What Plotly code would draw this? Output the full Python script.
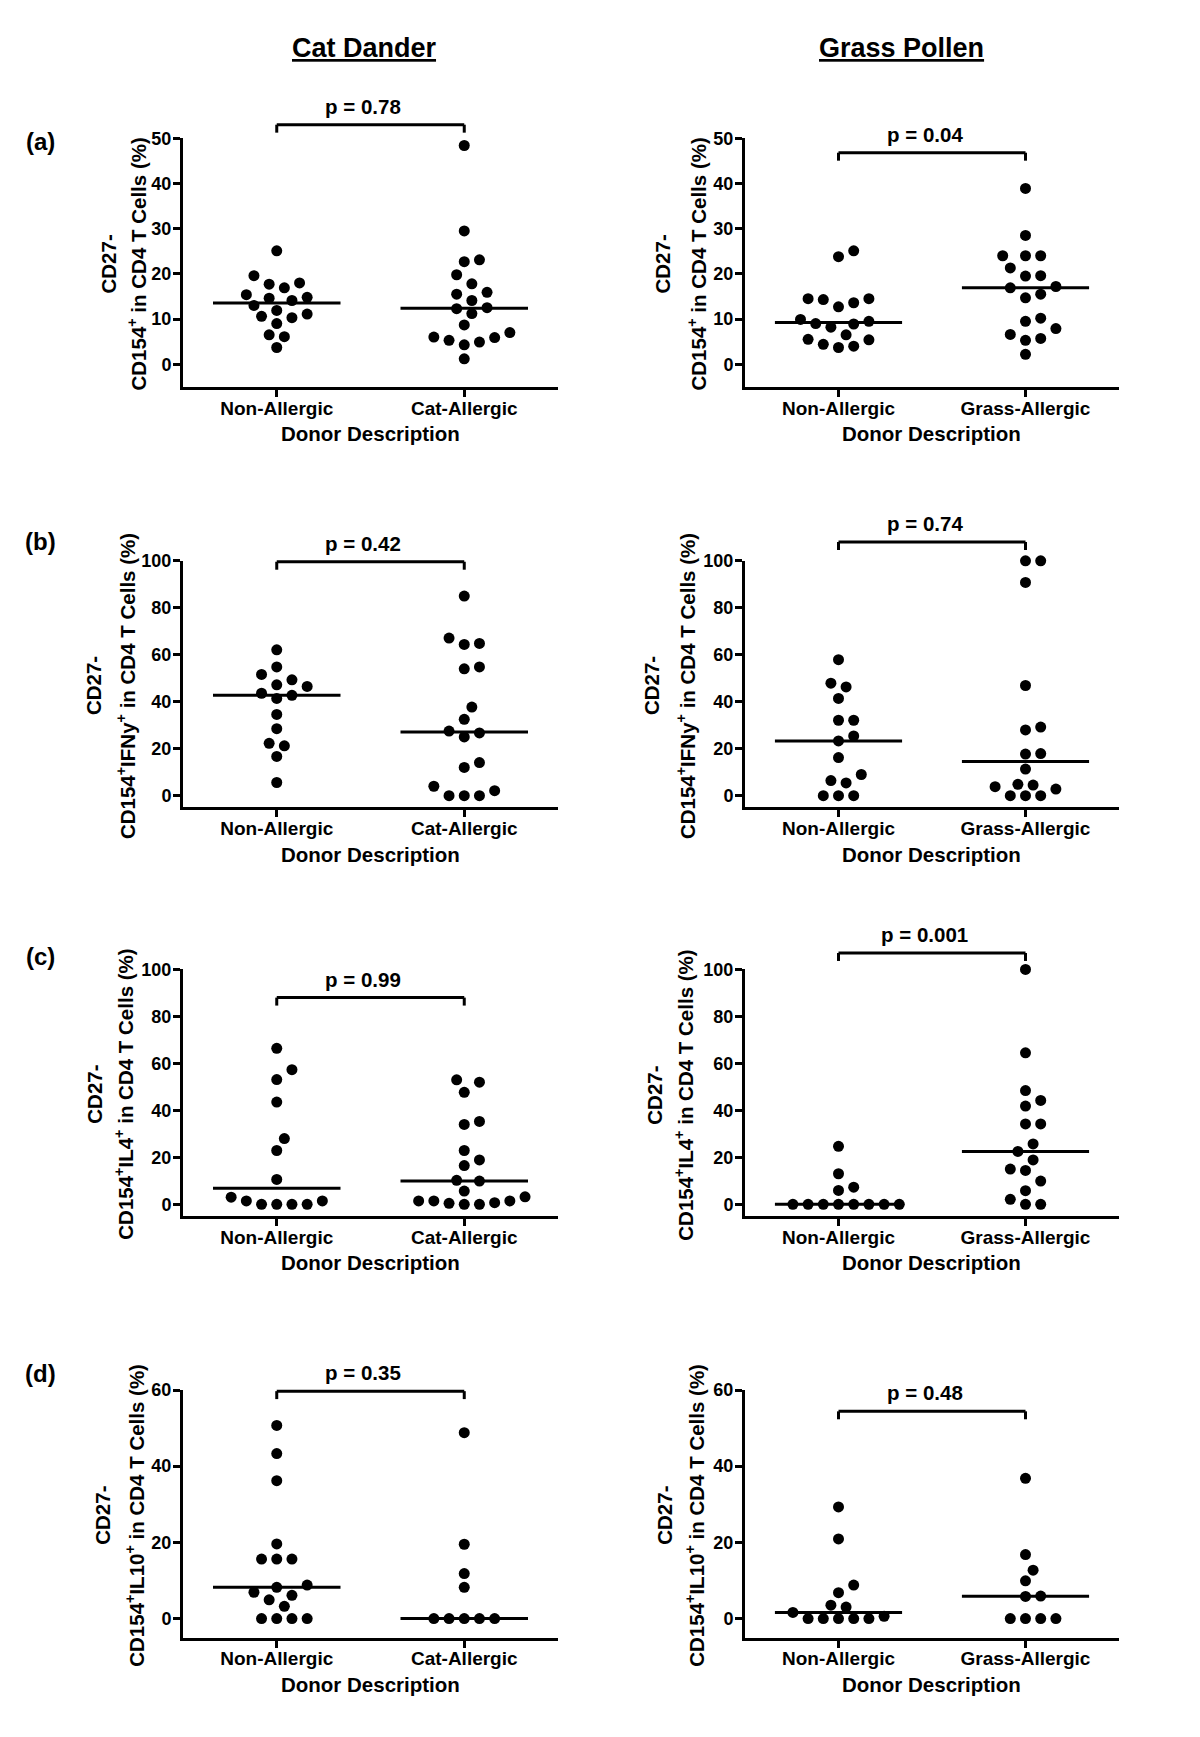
import numpy as np
import plotly.graph_objects as go

W, H = 1200, 1737
FONT = "Liberation Sans"

# ---------------- text ----------------
col_titles = ["Cat Dander", "Grass Pollen"]
panel_letters = ["(a)", "(b)", "(c)", "(d)"]
group_labels = [["Non-Allergic", "Cat-Allergic"], ["Non-Allergic", "Grass-Allergic"]]
x_title = "Donor Description"
y_title_top = "CD27-"
y_title_main = [
    "CD154<sup>+</sup> in CD4 T Cells (%)",
    "CD154<sup>+</sup>IFNy<sup>+</sup> in CD4 T Cells (%)",
    "CD154<sup>+</sup>IL4<sup>+</sup> in CD4 T Cells (%)",
    "CD154<sup>+</sup>IL10<sup>+</sup> in CD4 T Cells (%)",
]
p_texts = [["p = 0.78", "p = 0.04"], ["p = 0.42", "p = 0.74"],
           ["p = 0.99", "p = 0.001"], ["p = 0.35", "p = 0.48"]]

# ---------------- data ----------------
a_cat_non = [25.1, 19.6, 17.7, 18.0, 16.9, 15.4, 14.6, 14.8, 14.1, 13.0, 11.1, 11.9, 10.3, 10.6, 9.0, 6.5, 6.1, 3.7]
a_cat_all = [48.4, 29.5, 22.7, 23.1, 19.8, 17.8, 15.5, 15.9, 14.1, 12.3, 12.5, 11.2, 8.7, 7.0, 6.0, 5.3, 5.9, 4.9, 4.3, 1.2]
a_grass_non = [25.1, 23.8, 14.5, 14.3, 14.5, 13.6, 12.7, 9.5, 9.9, 9.0, 8.9, 8.2, 6.5, 5.5, 5.4, 4.4, 4.0, 3.7]
a_grass_all = [38.9, 28.5, 24.0, 24.0, 24.0, 21.3, 19.5, 19.6, 17.2, 16.9, 15.5, 14.7, 10.2, 9.5, 7.9, 6.6, 5.7, 5.3, 2.2]

b_cat_non = [62.1, 54.8, 51.6, 49.3, 46.5, 47.2, 43.6, 42.7, 41.4, 34.6, 28.5, 21.2, 22.3, 16.7, 5.6]
b_cat_all = [85.0, 64.8, 64.4, 67.1, 54.0, 54.8, 37.7, 32.5, 27.5, 26.7, 25.0, 14.1, 12.0, 4.0, 2.1, 0, 0, 0]
b_grass_non = [57.9, 46.3, 47.9, 41.4, 32.1, 32.1, 25.4, 23.3, 16.2, 9.0, 6.4, 5.4, 0, 0, 0]
b_grass_all = [100, 100, 90.8, 46.9, 29.2, 28.0, 17.7, 17.9, 11.3, 4.5, 3.8, 4.8, 2.8, 0, 0, 0]

c_cat_non = [66.4, 57.3, 53.1, 43.5, 28.0, 22.9, 10.6, 3.0, 1.4, 1.4, 0, 0, 0, 0]
c_cat_all = [53.0, 52.0, 47.7, 35.3, 34.0, 22.9, 18.9, 16.5, 10.2, 9.9, 5.6, 3.2, 1.4, 1.4, 0.4, 0.7, 1.4, 0, 0]
c_grass_non = [24.7, 13.0, 5.9, 7.3, 0, 0, 0, 0, 0, 0, 0, 0]
c_grass_all = [100, 64.5, 48.4, 44.2, 41.8, 34.2, 34.2, 25.7, 22.5, 18.9, 14.4, 15.0, 9.9, 5.8, 2.1, 0, 0]

d_cat_non = [50.7, 43.3, 36.2, 19.6, 15.6, 15.6, 15.6, 8.8, 8.2, 6.9, 6.1, 4.9, 3.2, 0, 0, 0, 0]
d_cat_all = [48.8, 19.5, 11.8, 8.2, 0, 0, 0, 0, 0]
d_grass_non = [29.3, 20.9, 8.8, 6.8, 3.5, 3.0, 1.6, 0.6, 0, 0, 0, 0, 0]
d_grass_all = [36.8, 16.8, 12.7, 9.9, 5.9, 5.8, 0, 0, 0, 0]

data = [
    [[a_cat_non, a_cat_all], [a_grass_non, a_grass_all]],
    [[b_cat_non, b_cat_all], [b_grass_non, b_grass_all]],
    [[c_cat_non, c_cat_all], [c_grass_non, c_grass_all]],
    [[d_cat_non, d_cat_all], [d_grass_non, d_grass_all]],
]

y_ranges = [[-5, 50], [-5, 100], [-5, 100], [-5, 60]]
y_tickvals = [[0, 10, 20, 30, 40, 50], [0, 20, 40, 60, 80, 100],
              [0, 20, 40, 60, 80, 100], [0, 20, 40, 60]]
bracket_levels = [[53, 46.8], [99.6, 108], [88, 107], [59.7, 54.4]]

# ---------------- layout geometry (pixels) ----------------
col_x_px = [(183, 558), (745, 1119)]
row_y_px = [(129, 379), (554, 802), (965, 1213), (1388, 1637)]
# (first line x, second line x) of the rotated y titles
ytitle_x_px = [[(109, 137), (663, 697)], [(93, 126), (651, 686)],
               [(95, 124), (655, 684)], [(103, 135), (665, 695)]]
X_RANGE = [-0.5, 1.5]
MED_HALF = 0.34


def px_to_fx(px):
    return px / W


def px_to_fy(py):
    return 1 - py / H


def swarm(values, xppu, yppu, h=7.6, dmin=13.0):
    vals = np.asarray(values, dtype=float)
    order = np.argsort(vals, kind="stable")
    placed = []
    offs = np.zeros(len(vals))
    cands = [0]
    for k in range(1, 40):
        cands += [k, -k]
    for i in order:
        y = vals[i] * yppu
        for k in cands:
            x = k * h
            if all((x - px) ** 2 + (y - py) ** 2 >= dmin ** 2 for px, py in placed):
                break
        placed.append((x, y))
        offs[i] = x / xppu
    return offs


fig = go.Figure()
annotations = []
shapes = []
ax_n = 0
BOLD = dict(family=FONT, color="black", weight="bold")
for r in range(4):
    ytop, ybot = row_y_px[r]
    lo, hi = y_ranges[r]
    yppu = (ybot - ytop) / (hi - lo)
    for c in range(2):
        ax_n += 1
        sfx = "" if ax_n == 1 else str(ax_n)
        xl, xr = col_x_px[c]
        xppu = (xr - xl) / (X_RANGE[1] - X_RANGE[0])
        xa = "x" + sfx
        ya = "y" + sfx
        for g in range(2):
            vals = data[r][c][g]
            offs = swarm(vals, xppu, yppu)
            fig.add_trace(go.Scatter(
                x=g + offs, y=vals, mode="markers", xaxis=xa, yaxis=ya,
                marker=dict(color="black", size=11, line=dict(width=0)),
                cliponaxis=False, showlegend=False, hoverinfo="y"))
            med = float(np.median(vals))
            fig.add_trace(go.Scatter(
                x=[g - MED_HALF, g + MED_HALF], y=[med, med], mode="lines",
                xaxis=xa, yaxis=ya, line=dict(color="black", width=3),
                showlegend=False, hoverinfo="skip"))
        common = dict(showline=True, linewidth=3, linecolor="black", ticks="outside",
                      ticklen=7, tickwidth=3, tickcolor="black", showgrid=False,
                      zeroline=False, mirror=False, fixedrange=True)
        fig.layout["xaxis" + sfx] = dict(
            domain=[px_to_fx(xl), px_to_fx(xr)], range=X_RANGE, anchor=ya,
            tickvals=[0, 1], ticktext=group_labels[c], ticklabelstandoff=-5,
            tickfont=dict(size=19, **BOLD), **common)
        fig.layout["yaxis" + sfx] = dict(
            domain=[px_to_fy(ybot), px_to_fy(ytop)], range=[lo, hi], anchor=xa,
            tickvals=y_tickvals[r], ticklabelstandoff=-2,
            tickfont=dict(size=18, **BOLD), **common)

        # bracket
        lvl = bracket_levels[r][c]
        fy = (lvl - lo) / (hi - lo)
        tick = 8 / (ybot - ytop)
        fx0 = (0 - X_RANGE[0]) / (X_RANGE[1] - X_RANGE[0])
        fx1 = (1 - X_RANGE[0]) / (X_RANGE[1] - X_RANGE[0])
        ln = dict(color="black", width=3)
        shapes.append(dict(type="line", xref=xa + " domain", yref=ya + " domain",
                           x0=fx0, x1=fx1, y0=fy, y1=fy, line=ln))
        for fx in (fx0, fx1):
            shapes.append(dict(type="line", xref=xa + " domain", yref=ya + " domain",
                               x0=fx, x1=fx, y0=fy, y1=fy - tick, line=ln))
        annotations.append(dict(text=p_texts[r][c], xref=xa, yref=ya + " domain",
                                x=0.46, y=fy, yanchor="bottom", xanchor="center",
                                yshift=5, showarrow=False, font=dict(size=20.5, **BOLD)))
        # x title
        annotations.append(dict(text=x_title, xref="paper", yref="paper",
                                x=px_to_fx((xl + xr) / 2), y=px_to_fy(ybot + 47),
                                xanchor="center", yanchor="middle", showarrow=False,
                                font=dict(size=20.5, **BOLD)))
        # y title (two rotated lines)
        ycen = px_to_fy((ytop + ybot) / 2 + 2)
        x1, x2 = ytitle_x_px[r][c]
        for txt, xp in ((y_title_top, x1), (y_title_main[r], x2)):
            annotations.append(dict(text=txt, xref="paper", yref="paper",
                                    x=px_to_fx(xp), y=ycen,
                                    xanchor="center", yanchor="middle", textangle=-90,
                                    showarrow=False, font=dict(size=20.5, **BOLD)))

# column titles
for t, cx in zip(col_titles, [365, 901]):
    annotations.append(dict(text="<u>" + t + "</u>", xref="paper", yref="paper",
                            x=px_to_fx(cx), y=px_to_fy(38), xanchor="center", yanchor="middle",
                            showarrow=False, font=dict(size=27, **BOLD)))
# panel letters
for lt, py in zip(panel_letters, [132, 535, 952, 1371]):
    annotations.append(dict(text=lt, xref="paper", yref="paper",
                            x=px_to_fx(40), y=px_to_fy(py), xanchor="center", yanchor="middle",
                            showarrow=False, font=dict(size=24, **BOLD)))

fig.update_layout(width=W, height=H, margin=dict(l=0, r=0, t=0, b=0),
                  paper_bgcolor="white", plot_bgcolor="white",
                  annotations=annotations, shapes=shapes,
                  font=dict(family=FONT, color="black"))
fig.write_html("out.html", config={"displayModeBar": False},
               post_script="document.body.style.margin='0';")
